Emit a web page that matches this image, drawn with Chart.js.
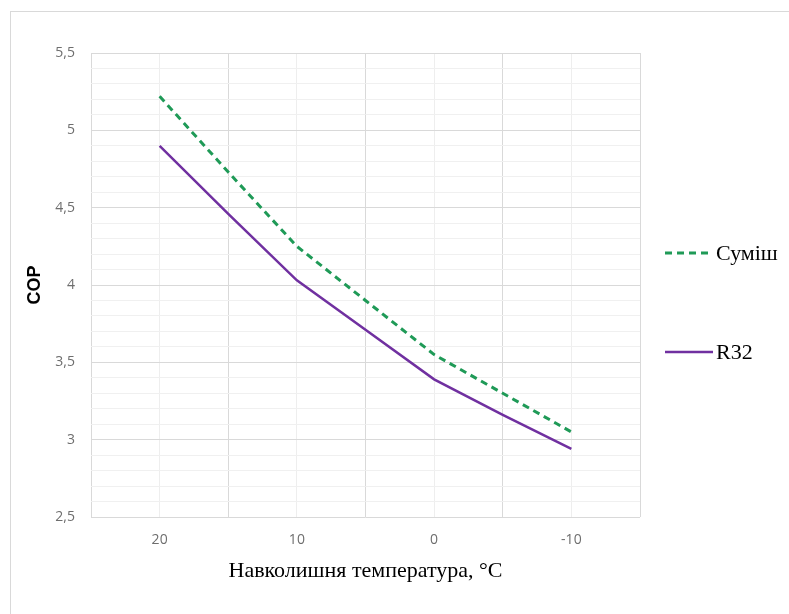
<!DOCTYPE html>
<html>
<head>
<meta charset="utf-8">
<script src="https://cdn.jsdelivr.net/npm/chart.js@4"></script>
<style>
    html, body { margin: 0; padding: 0; background: #ffffff; }
    #wrap { width: 789px; height: 614px; position: relative; }
</style>
</head>
<body>
<div id="wrap"><canvas id="chartCop"></canvas></div>
<script>
// Температура, °C
const temperaturas = [20, 15, 10, 5, 0, -5, -10];
// COP по серіях
const copSumish = [5.22, 4.73, 4.25, 3.90, 3.55, 3.30, 3.05];
const copR32 = [4.90, 4.46, 4.03, 3.71, 3.39, 3.16, 2.94];
const etiquetasSeries = ['Суміш', 'R32'];
const ticksX = [20, 10, 0, -10];
const ticksY = [2.5, 3, 3.5, 4, 4.5, 5, 5.5];

const esMultiplo = (v, m) => Math.abs(v / m - Math.round(v / m)) < 1e-6;

// marco exterior del gráfico
const marcoPlugin = {
    id: 'marco',
    beforeDraw(chart) {
        const ctx = chart.ctx;
        ctx.save();
        ctx.strokeStyle = '#d9d9d9';
        ctx.lineWidth = 1;
        ctx.strokeRect(10.5, 11.5, 900, 800);
        ctx.restore();
    }
};

// leyenda a la derecha, como en Excel
const leyendaPlugin = {
    id: 'leyendaDerecha',
    afterDraw(chart) {
        const ctx = chart.ctx;
        const filas = [253, 352];
        ctx.save();
        chart.data.datasets.forEach((ds, i) => {
            const y = filas[i];
            ctx.strokeStyle = ds.borderColor;
            ctx.lineWidth = ds.borderWidth;
            ctx.setLineDash(ds.borderDash || []);
            ctx.beginPath();
            ctx.moveTo(665, y);
            ctx.lineTo(713, y);
            ctx.stroke();
            ctx.setLineDash([]);
            ctx.fillStyle = '#000000';
            ctx.font = '22px "Liberation Serif", "Times New Roman", serif';
            ctx.textBaseline = 'middle';
            ctx.textAlign = 'left';
            ctx.fillText(ds.label, 716, y + 1);
        });
        ctx.restore();
    }
};

const data = {
    datasets: [
        {
            label: etiquetasSeries[0],
            data: temperaturas.map((t, i) => ({ x: t, y: copSumish[i] })),
            borderColor: '#1f9a57',
            borderWidth: 3,
            borderDash: [7, 5],
            pointRadius: 0,
            tension: 0,
            fill: false
        },
        {
            label: etiquetasSeries[1],
            data: temperaturas.map((t, i) => ({ x: t, y: copR32[i] })),
            borderColor: '#7030a0',
            borderWidth: 2.5,
            pointRadius: 0,
            tension: 0,
            fill: false
        }
    ]
};

const config = {
    type: 'line',
    data: data,
    plugins: [marcoPlugin, leyendaPlugin],
    options: {
        responsive: true,
        maintainAspectRatio: false,
        animation: false,
        layout: {
            padding: { left: 0, right: 149, top: 53, bottom: 0 }
        },
        plugins: {
            legend: { display: false },
            tooltip: { enabled: false }
        },
        scales: {
            x: {
                type: 'linear',
                reverse: true,
                min: -15,
                max: 25,
                afterBuildTicks: (scale) => {
                    const t = [];
                    for (let v = -15; v <= 25; v += 5) t.push({ value: v });
                    scale.ticks = t;
                },
                afterFit: (scale) => { scale.height = 97; },
                ticks: {
                    autoSkip: false,
                    maxRotation: 0,
                    padding: 15,
                    color: '#6e6e6e',
                    font: { family: '"Open Sans", "Liberation Sans", sans-serif', size: 14 },
                    callback: (value) => ticksX.includes(value) ? String(value) : ''
                },
                grid: {
                    drawTicks: false,
                    color: (c) => esMultiplo(c.tick.value, 10) ? '#eeeeee' : '#d9d9d9',
                    lineWidth: 1
                },
                border: { display: false },
                title: {
                    display: true,
                    text: 'Навколишня температура, °C',
                    color: '#000000',
                    font: { family: '"Liberation Serif", "Times New Roman", serif', size: 22 },
                    padding: { top: 0, bottom: 30 }
                }
            },
            y: {
                min: 2.5,
                max: 5.5,
                afterBuildTicks: (scale) => {
                    const t = [];
                    for (let k = 25; k <= 55; k++) t.push({ value: k / 10 });
                    scale.ticks = t;
                },
                afterFit: (scale) => { scale.width = 91; },
                ticks: {
                    autoSkip: false,
                    padding: 16,
                    color: '#6e6e6e',
                    font: { family: '"Open Sans", "Liberation Sans", sans-serif', size: 14 },
                    callback: (value) => ticksY.some(v => Math.abs(v - value) < 1e-6)
                        ? String(Math.round(value * 10) / 10).replace('.', ',') : ''
                },
                grid: {
                    drawTicks: false,
                    color: (c) => esMultiplo(c.tick.value, 0.5) ? '#d9d9d9' : '#f0f0f0',
                    lineWidth: 1
                },
                border: { display: false },
                title: {
                    display: true,
                    text: 'COP',
                    color: '#000000',
                    font: { family: '"Liberation Sans", Arial, sans-serif', size: 18, weight: 'bold' },
                    padding: { top: 24, bottom: 0 }
                }
            }
        }
    }
};

new Chart(document.getElementById('chartCop').getContext('2d'), config);
</script>
</body>
</html>
